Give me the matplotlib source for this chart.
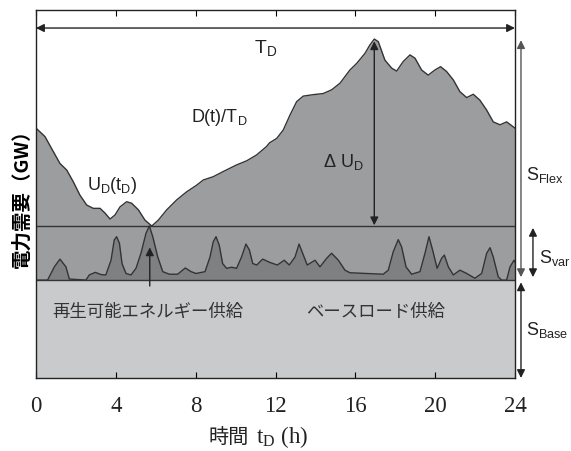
import matplotlib
matplotlib.use("Agg")
import matplotlib.pyplot as plt
import numpy as np

# demand curve D(t): hour, level (arbitrary GW units, 0-100 scale)
demand_t = [0, 0.45, 0.87, 1.2, 1.54, 1.87, 2.2, 2.54, 2.87, 3.21, 3.46, 3.71, 3.96, 4.21,
            4.54, 4.79, 5.13, 5.46, 5.8, 6.13, 6.55, 7.05, 7.55, 8.05, 8.38, 8.88, 9.38,
            10.05, 10.55, 11.05, 11.55, 11.7, 12.06, 12.39, 12.73, 13.06, 13.39, 13.9,
            14.39, 14.81, 15.23, 15.73, 16.07, 16.48, 16.73, 16.95, 17.15, 17.48, 17.82,
            18.07, 18.4, 18.74, 18.99, 19.32, 19.65, 19.99, 20.27, 20.57, 20.91, 21.24,
            21.58, 21.91, 22.24, 22.58, 22.91, 23.25, 23.58, 24]
demand = [67.9, 65.6, 61.5, 58.3, 56.5, 53.3, 49.7, 47.0, 46.1, 46.1, 44.8, 43.2, 44.3, 46.5,
          47.9, 47.5, 45.7, 42.9, 41.3, 42.9, 45.7, 48.4, 50.6, 52.4, 53.8, 54.7, 56.1,
          57.9, 59.0, 60.6, 62.9, 63.9, 65.1, 67.4, 71.5, 75.1, 76.6, 77.0,
          77.3, 78.3, 80.1, 83.7, 85.5, 88.2, 90.5, 92.1, 91.4, 86.4, 84.2,
          83.4, 86.0, 87.8, 86.9, 83.7, 82.3, 83.7, 84.6, 83.3, 81.0, 77.8,
          76.2, 77.1, 75.5, 72.8, 69.6, 68.8, 69.6, 67.9]

# variable renewable output above base load
var_t = [0, 0.58, 0.92, 1.2, 1.5, 1.67, 2.5, 2.67, 2.97, 3.26, 3.5, 3.76, 3.92, 4.04,
         4.18, 4.31, 4.51, 4.76, 5.01, 5.26, 5.51, 5.68, 5.85, 6.1, 6.35, 6.68, 7.1,
         7.48, 7.77, 8.02, 8.47, 8.72, 8.88, 9.02, 9.18, 9.35, 9.55, 9.8, 10.05, 10.3,
         10.52, 10.69, 10.86, 11.06, 11.36, 11.72, 12.09, 12.44, 12.69, 12.98, 13.18,
         13.36, 13.59, 13.98, 14.23, 14.56, 14.81, 15.15, 15.48, 15.73, 17.4, 17.65,
         17.9, 18.15, 18.32, 18.54, 18.82, 19.24, 19.49, 19.69, 19.87, 20.1, 20.32,
         20.46, 20.66, 20.91, 21.24, 21.58, 21.99, 22.33, 22.58, 22.75, 22.91, 23.16,
         23.33, 23.58, 23.75, 23.95, 24]
var = [0, 0, 3.6, 5.7, 3.6, 0.3, 0, 1.4, 2.1, 1.5, 1.4, 5.4, 10.9, 11.8,
       10.0, 4.5, 1.8, 1.4, 3.2, 7.3, 12.7, 14.7, 11.8, 6.3, 2.3, 1.6, 1.6,
       3.3, 2.3, 1.8, 2.3, 6.3, 10.4, 11.8, 9.5, 4.5, 3.2, 3.5, 3.2, 6.3,
       9.8, 8.2, 4.5, 4.1, 5.7, 4.8, 4.1, 5.4, 4.1, 6.3, 9.8,
       7.3, 4.1, 5.4, 3.6, 5.9, 7.3, 5.4, 2.7, 2.0, 1.6, 2.7,
       7.7, 11.0, 9.0, 3.6, 1.6, 2.3, 7.3, 11.8, 8.2, 3.2, 5.9,
       6.8, 3.6, 1.4, 2.7, 1.8, 0.5, 1.8, 7.3, 8.8, 6.3, 0.9,
       0, 0, 3.6, 5.4, 4.9]

BASE = 26.6
FLEX = 41.3

C_LIGHT = "#c9cacc"
C_MID = "#9c9d9f"
C_DARK = "#7f8082"
C_LINE = "#333333"

SERIF_JP = ["Liberation Serif", "Noto Sans CJK JP"]
JP = ["Noto Sans CJK JP"]

fig = plt.figure(figsize=(5.71, 4.51), dpi=100)
ax = fig.add_axes([36 / 571, 73 / 451, 479 / 571, 368 / 451])

t_full = [0, 24]
ax.fill_between(t_full, 0, BASE, color=C_LIGHT, lw=0)
ax.fill_between(t_full, BASE, FLEX, color=C_MID, lw=0)

var_abs = np.array(var) + BASE
ax.fill_between(var_t, BASE, var_abs, color=C_DARK, lw=0)
ax.plot(var_t, var_abs, color=C_LINE, lw=1.0, solid_joinstyle="round")

ax.fill_between(demand_t, FLEX, demand, color=C_MID, lw=0)
ax.plot(demand_t, demand, color=C_LINE, lw=1.0, solid_joinstyle="round")

ax.axhline(BASE, color=C_LINE, lw=1.0)
ax.axhline(FLEX, color=C_LINE, lw=1.0)

ax.set_xlim(0, 24)
ax.set_ylim(0, 100)
ax.set_xticks(range(0, 25, 4))
ax.set_yticks([])
ax.tick_params(axis="x", direction="in", top=True, length=4, width=0.8, pad=13,
               labelsize=16.5)
for lab in ax.get_xticklabels():
    lab.set_family(SERIF_JP)
    lab.set_color("#222222")
for s in ax.spines.values():
    s.set_linewidth(1.0)
    s.set_color("#222222")

# x label: Japanese part and serif t_D part as separate texts
fig.text(249 / 571, 14 / 451, "時間", family=JP, fontsize=14.5, ha="right", va="center",
         color="#222222")
fig.text(256 / 571, 14 / 451, "t$_\\mathregular{D}$ (h)", family=["Liberation Serif"],
         fontsize=16.5, ha="left", va="center", color="#222222")
ax.set_ylabel("電力需要（GW）", family=JP, fontsize=14, fontweight="bold", labelpad=3)

arrow = dict(arrowstyle="<|-|>", color="#222222", lw=1.0, mutation_scale=12,
             shrinkA=0, shrinkB=0)
sans = dict(family=["Liberation Sans"], color="#222222")

# T_D span
ax.annotate("", xy=(0, 95.1), xytext=(24, 95.1), arrowprops=arrow)
ax.text(11.5, 89.5, "T$_\\mathregular{D}$", fontsize=14, ha="center", va="center", **sans)
ax.text(9.2, 70.7, "D(t)/T$_\\mathregular{D}$", fontsize=13, ha="center", va="center", **sans)
ax.text(3.8, 52.4, "U$_\\mathregular{D}$(t$_\\mathregular{D}$)", fontsize=13, ha="center",
        va="center", **sans)

# delta U_D
ax.annotate("", xy=(16.95, 91.5), xytext=(16.95, 41.5), arrowprops=arrow)
ax.text(16.4, 58.7, "Δ U$_\\mathregular{D}$", fontsize=13, ha="right", va="center", **sans)

# renewable pointer
ax.annotate("", xy=(5.7, 35.5), xytext=(5.7, 25.0),
            arrowprops=dict(arrowstyle="-|>", color="#222222", lw=1.0,
                            mutation_scale=12, shrinkA=0, shrinkB=0))
ax.text(5.6, 17.9, "再生可能エネルギー供給", family=JP, fontsize=12.5,
        ha="center", va="center", color="#333333")
ax.text(17.0, 17.9, "ベースロード供給", family=JP, fontsize=12.5,
        ha="center", va="center", color="#333333")

# right-hand supply arrows
ax.annotate("", xy=(24.3, 91.8), xytext=(24.3, 27.4), arrowprops=dict(arrow, color="#555555"),
            annotation_clip=False)
ax.annotate("", xy=(24.3, 26.0), xytext=(24.3, 0), arrowprops=arrow, annotation_clip=False)
ax.annotate("", xy=(24.9, 40.8), xytext=(24.9, 27.4), arrowprops=arrow, annotation_clip=False)
ax.text(24.55, 55.2, "S$_\\mathregular{Flex}$", fontsize=13, ha="left", va="center",
        clip_on=False, **sans)
ax.text(25.2, 32.6, "S$_\\mathregular{var}$", fontsize=13, ha="left", va="center",
        clip_on=False, **sans)
ax.text(24.55, 13.0, "S$_\\mathregular{Base}$", fontsize=13, ha="left", va="center",
        clip_on=False, **sans)

fig.savefig("out.png", dpi=100)
